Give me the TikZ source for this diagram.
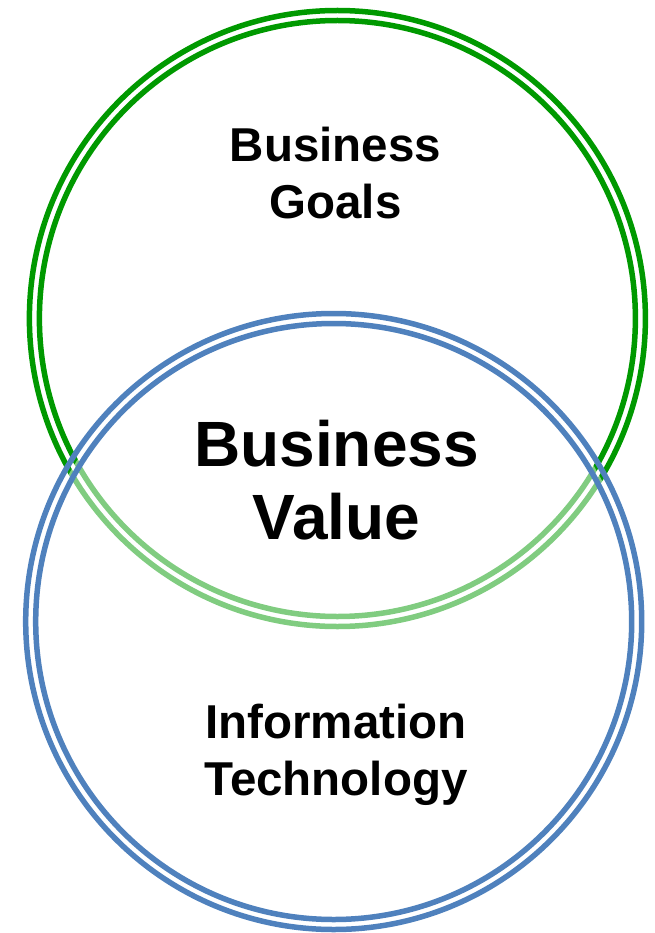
\documentclass[tikz,border=0pt]{standalone}
\usepackage{fontspec}
\setmainfont{Liberation Sans}
\usepackage{tikz}
\definecolor{goalgreen}{RGB}{0,153,0}
\definecolor{techblue}{RGB}{79,129,189}
\tikzstyle{ring}=[line width=5.5pt]
\tikzstyle{goalring}=[ring, draw=goalgreen]
\tikzstyle{techring}=[ring, draw=techblue]
\tikzstyle{label}=[align=center, inner sep=0pt, font=\bfseries\fontsize{47.5}{57}\selectfont]
\tikzstyle{biglabel}=[label, font=\bfseries\fontsize{64}{73}\selectfont]
\begin{document}
\begin{tikzpicture}[x=1pt,y=-1pt]
  \useasboundingbox (0,0) rectangle (654,933);

  % Circle centres
  \coordinate (goals) at (337.4,318.5);
  \coordinate (tech) at (333.7,621.5);

  % Business goals ring
  \draw [goalring] (goals) circle [radius=308pt];
  \draw [goalring] (goals) circle [radius=298pt];

  % Information technology ring, laid over the first one
  \fill [white, fill opacity=0.5] (tech) circle [radius=303pt];
  \draw [techring] (tech) circle [radius=308pt];
  \draw [techring] (tech) circle [radius=298pt];

  % Labels
  \node (bg) [label] at (335.5,173.5) {Business\\Goals};
  \node (bv) [biglabel] at (336.5,480.5) {Business\\Value};
  \node (it) [label] at (336,754.5) {Information\\Technology};
\end{tikzpicture}
\end{document}
